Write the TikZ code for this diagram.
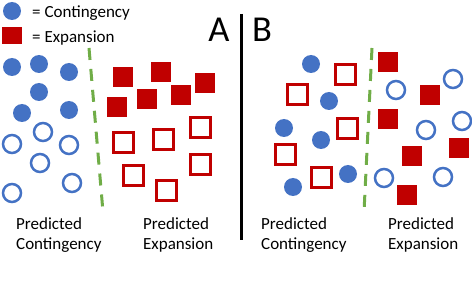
\documentclass[tikz,border=0pt]{standalone}
\usepackage{fontspec}
\setmainfont{Carlito}
\definecolor{cblue}{HTML}{4472C4}
\definecolor{cred}{HTML}{C00000}
\definecolor{cgreen}{HTML}{70AD47}
\tikzset{
  fc/.style={circle, fill=cblue, minimum size=18pt, inner sep=0pt},
  oc/.style={circle, draw=cblue, line width=2.5pt, minimum size=18pt, inner sep=0pt},
  fs/.style={rectangle, fill=cred, minimum size=19.5pt, inner sep=0pt},
  os/.style={rectangle, draw=cred, line width=3pt, minimum size=20pt, inner sep=0pt},
  lbl/.style={font=\fontsize{17}{20.5}\selectfont, align=left, anchor=base west, inner sep=0pt},
  big/.style={font=\fontsize{36.5}{40}\selectfont, anchor=base, inner sep=0pt},
  divider/.style={cgreen, line width=3pt, dash pattern=on 12pt off 9pt},
  sep/.style={black, line width=3pt},
}
\begin{document}
\begin{tikzpicture}[x=1pt,y=-1pt]
\useasboundingbox (0,0) rectangle (472,286);
% legend
\node[fc] (legc) at (12,11) {};
\node[rectangle, fill=cred, minimum width=20pt, minimum height=17.5pt, inner sep=0pt] (legs) at (12,35.5) {};
\node[lbl] (legct) at (32,18) {= Contingency};
\node[lbl] (leget) at (32,43) {= Expansion};
% panel letters and separator
\node[big] (la) at (219,41.5) {A};
\node[big] (lb) at (262,41.5) {B};
\coordinate (septop) at (241.5,14);
\coordinate (sepbot) at (241.5,240.5);
\draw[sep] (septop) -- (sepbot);
% panel A
\foreach \p [count=\i] in {{12,67},{39,64},{69,72},{39,92},{22,113},{69,110}}
  \node[fc] (afc\i) at (\p) {};
\foreach \p [count=\i] in {{43,132},{12,144},{69,145},{40,163},{72,183},{12,193}}
  \node[oc] (aoc\i) at (\p) {};
\foreach \p [count=\i] in {{123,77},{161,72},{205,83},{147,99},{181,95},{117,107}}
  \node[fs] (afs\i) at (\p) {};
\foreach \p [count=\i] in {{123,143},{163,140},{200,128},{133,176},{200,165},{166,191}}
  \node[os] (aos\i) at (\p) {};
\coordinate (adivtop) at (89,48);
\coordinate (adivbot) at (103,212);
\draw[divider] (adivtop) -- (adivbot);
\node[lbl] (apc) at (16,250) {Predicted\\Contingency};
\node[lbl] (ape) at (143,250) {Predicted\\Expansion};
% panel B
\foreach \p [count=\i] in {{311,64},{329,101},{284,128},{321,140},{348,174},{293,187}}
  \node[fc] (bfc\i) at (\p) {};
\foreach \p [count=\i] in {{345,75},{297,95},{347,129},{285,155},{321,178}}
  \node[os] (bos\i) at (\p) {};
\foreach \p [count=\i] in {{388,62},{430,95},{388,119},{459,148},{412,156},{407,195}}
  \node[fs] (bfs\i) at (\p) {};
\foreach \p [count=\i] in {{453,79},{396,90},{462,121},{426,130},{384,178},{443,177}}
  \node[oc] (boc\i) at (\p) {};
\coordinate (bdivtop) at (372,48);
\coordinate (bdivbot) at (364,212);
\draw[divider] (bdivtop) -- (bdivbot);
\node[lbl] (bpc) at (261,250) {Predicted\\Contingency};
\node[lbl] (bpe) at (388,250) {Predicted\\Expansion};
\end{tikzpicture}
\end{document}
